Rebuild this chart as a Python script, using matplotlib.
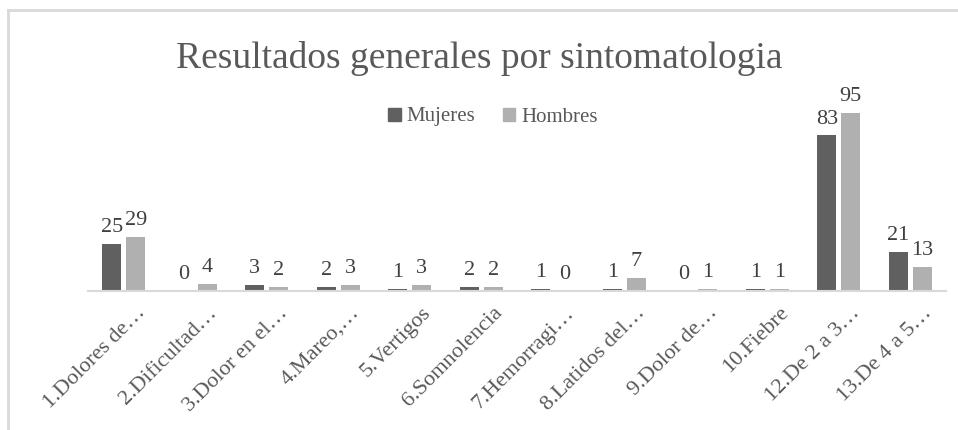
import matplotlib
matplotlib.use("Agg")
import matplotlib.pyplot as plt
from matplotlib.patches import Patch
from matplotlib.lines import Line2D
from matplotlib.transforms import ScaledTranslation
import numpy as np

categories = ["1.Dolores de…", "2.Dificultad…", "3.Dolor en el…", "4.Mareo,…",
              "5.Vertigos", "6.Somnolencia", "7.Hemorragi…", "8.Latidos del…",
              "9.Dolor de…", "10.Fiebre", "12.De 2 a 3…", "13.De 4 a 5…"]
mujeres = [25, 0, 3, 2, 1, 2, 1, 1, 0, 1, 83, 21]
hombres = [29, 4, 2, 3, 3, 2, 0, 7, 1, 1, 95, 13]

title = "Resultados generales por sintomatologia"
series_names = ["Mujeres", "Hombres"]
c_muj = "#606060"
c_hom = "#b0b0b0"
txt = "#595959"
font = "Liberation Serif"

W, H = 958, 430
fig = plt.figure(figsize=(W / 100, H / 100), dpi=100)
fig.patch.set_facecolor("white")

# outer chart border (top & left only visible)
fig.add_artist(Line2D([8 / W, 1], [1 - 10 / H, 1 - 10 / H], color="#d9d9d9", lw=2, transform=fig.transFigure))
fig.add_artist(Line2D([8 / W, 8 / W], [0, 1 - 10 / H], color="#d9d9d9", lw=2, transform=fig.transFigure))

ax_left, ax_right = 88, 946
ax_bottom_px, ax_top_px = 291, 103.6
ax = fig.add_axes([ax_left / W, 1 - ax_bottom_px / H, (ax_right - ax_left) / W, (ax_bottom_px - ax_top_px) / H])

x = np.arange(len(categories))
bw = 0.265
gap = 0.07
b1 = ax.bar(x - (bw + gap) / 2, mujeres, bw, color=c_muj)
b2 = ax.bar(x + (bw + gap) / 2, hombres, bw, color=c_hom)

for bars, vals in ((b1, mujeres), (b2, hombres)):
    for r, v in zip(bars, vals):
        ax.annotate(str(v), (r.get_x() + r.get_width() / 2, r.get_height()),
                    xytext=(0, 5), textcoords="offset points", ha="center", va="bottom",
                    fontsize=16, color="#404040", family=font)

ax.set_xlim(-0.5, len(categories) - 0.5)
ax.set_ylim(0, 100)
ax.set_yticks([])
for s in ("left", "right", "top"):
    ax.spines[s].set_visible(False)
ax.spines["bottom"].set_color("#d9d9d9")
ax.spines["bottom"].set_linewidth(1.5)
ax.set_xticks(x)
ax.set_xticklabels(categories, rotation=45, ha="right", va="top", rotation_mode="anchor",
                   fontsize=16, color=txt, family=font)
ax.tick_params(axis="x", length=0, pad=9)
shift = ScaledTranslation(12 / 100, 0, fig.dpi_scale_trans)
for lab in ax.get_xticklabels():
    lab.set_transform(lab.get_transform() + shift)
ax.patch.set_alpha(0)

fig.text(0.5, 1 - 58 / H, title, ha="center", va="center", fontsize=27, color=txt, family=font)

handles = [Patch(color=c_muj), Patch(color=c_hom)]
fig.legend(handles, series_names, loc="center", bbox_to_anchor=(493 / W, 1 - 117 / H), ncol=2,
           frameon=False, handlelength=0.6, handleheight=0.6, handletextpad=0.3, columnspacing=1.3,
           prop={"family": font, "size": 15}, labelcolor=txt)

fig.savefig("out.png", dpi=100)
